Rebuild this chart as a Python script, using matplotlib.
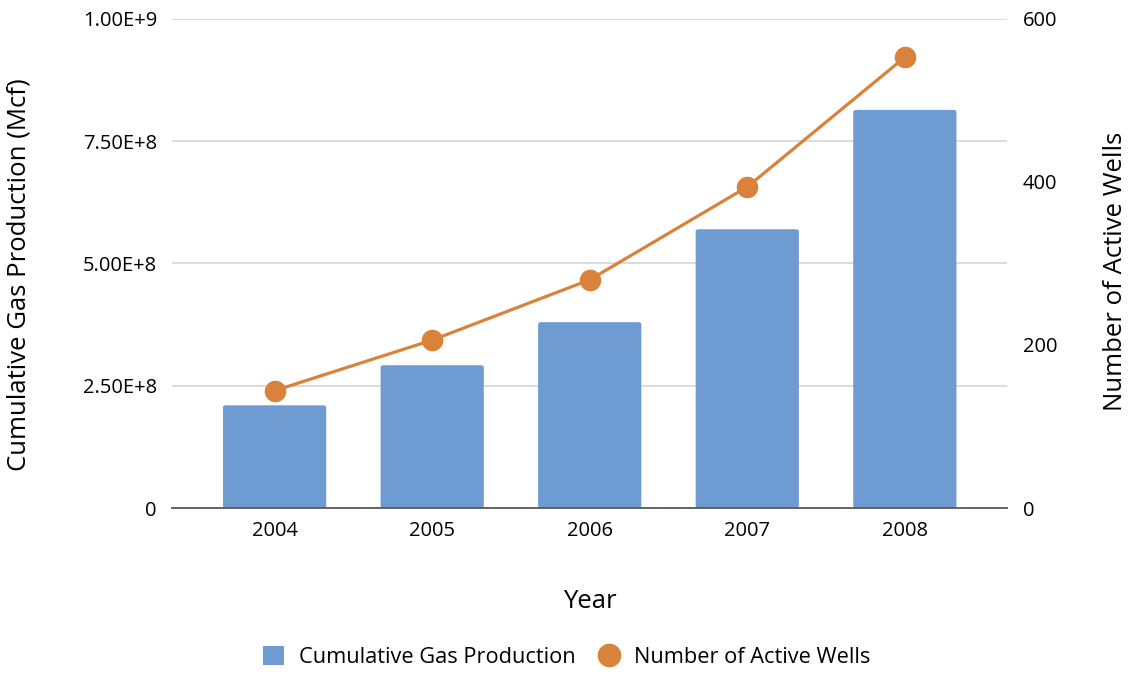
import matplotlib.pyplot as plt
from matplotlib.patches import FancyBboxPatch
from matplotlib.lines import Line2D
from matplotlib.patches import Patch

plt.rcParams['font.family'] = ['Open Sans', 'DejaVu Sans']

years = ['2004', '2005', '2006', '2007', '2008']
gas_production = [2.10e8, 2.92e8, 3.80e8, 5.70e8, 8.14e8]
active_wells = [144, 206, 280, 394, 553]

left_ticks = [0, 2.5e8, 5.0e8, 7.5e8, 1.0e9]
left_labels = ['0', '2.50E+8', '5.00E+8', '7.50E+8', '1.00E+9']
right_ticks = [0, 200, 400, 600]

bar_color = '#6f9bd3'
line_color = '#d9823b'

W, H = 1133, 677
fig = plt.figure(figsize=(W / 100, H / 100), dpi=100)
ax = fig.add_axes([0.152, 0.2496, 0.737, 0.7224])
ax2 = ax.twinx()

x = list(range(len(years)))
bars = ax.bar(x, gas_production, width=0.655, color=bar_color, zorder=2)

# round the bar corners slightly
for b in bars:
    b.set_visible(False)
    rp = FancyBboxPatch((b.get_x(), 0), b.get_width(), b.get_height(),
                        boxstyle='round,pad=0,rounding_size=0.02',
                        mutation_aspect=2.0e8,
                        facecolor=bar_color, edgecolor='none', zorder=2)
    ax.add_patch(rp)

ax.set_xlim(-0.65, 4.65)
ax.set_ylim(0, 1.0e9)
ax.set_yticks(left_ticks)
ax.set_yticklabels(left_labels)
ax.yaxis.grid(True, color='#d9d9d9', linewidth=1.3, zorder=0)
ax.set_axisbelow(True)
ax.set_xticks(x)
ax.set_xticklabels(years)

for s in ['top', 'right', 'left']:
    ax.spines[s].set_visible(False)
ax.spines['bottom'].set_color('#595959')
ax.spines['bottom'].set_linewidth(1.3)
ax.tick_params(axis='y', length=0, labelsize=14.5, pad=11)
ax.tick_params(axis='x', length=0, labelsize=14.5, pad=9)

ax2.plot(x, active_wells, color=line_color, linewidth=2.3, marker='o',
         markersize=14.5, zorder=3)
ax2.set_ylim(0, 600)
ax2.set_yticks(right_ticks)
ax2.tick_params(axis='y', length=0, labelsize=14.5, pad=11)
for s in ax2.spines.values():
    s.set_visible(False)

# axis titles
fig.text(19 / W, 1 - 275 / H, 'Cumulative Gas Production (Mcf)',
         rotation=90, ha='center', va='center', fontsize=18.5)
fig.text(1116 / W, 1 - 271 / H, 'Number of Active Wells',
         rotation=90, ha='center', va='center', fontsize=18.5)
fig.text(589.5 / W, 1 - 602 / H, 'Year', ha='center', va='center',
         fontsize=18.5)

handles = [Patch(facecolor=bar_color, edgecolor='none'),
           Line2D([], [], color=line_color, marker='o', linestyle='none',
                  markersize=16)]
fig.legend(handles, ['Cumulative Gas Production', 'Number of Active Wells'],
           loc='center', bbox_to_anchor=(0.5, 1 - 657 / H), ncol=2,
           frameon=False, fontsize=15.7, handlelength=1.0, handleheight=1.0,
           columnspacing=1.05, handletextpad=0.65)

fig.savefig('out.png', dpi=100)
